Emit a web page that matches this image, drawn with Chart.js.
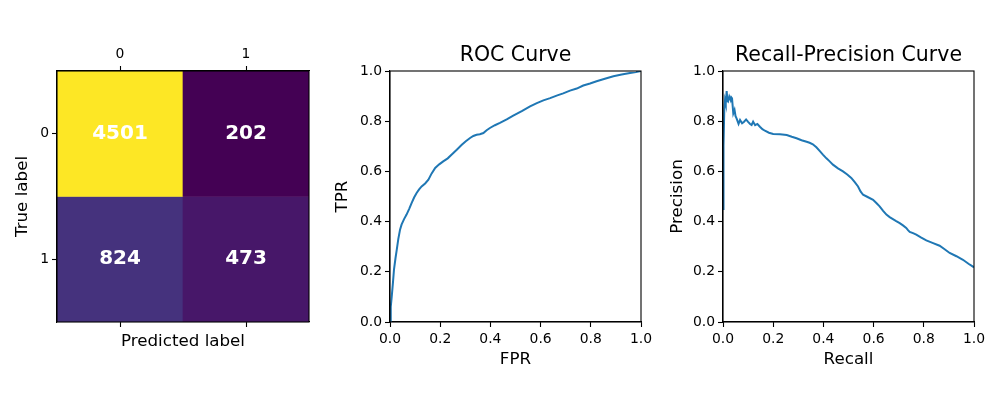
<!DOCTYPE html>
<html>
<head>
<meta charset="utf-8">
<script src="https://cdn.jsdelivr.net/npm/chart.js@4.4.0/dist/chart.umd.min.js"></script>
<style>
  html, body { margin: 0; padding: 0; background: #fff; overflow: hidden; }
  #wrap { position: relative; width: 1000px; height: 400px; }
  canvas { position: absolute; top: 0; }
</style>
</head>
<body>
<div id="wrap">
  <canvas id="confusion" width="330" height="400" style="left:0px"></canvas>
  <canvas id="roc" width="330" height="400" style="left:330px"></canvas>
  <canvas id="pr" width="340" height="400" style="left:660px"></canvas>
</div>
<script>
// confusion matrix
const cmLabels = ['0', '1'];
const cmRow0 = [4501, 202];
const cmRow1 = [824, 473];

// ROC curve
const rocFpr = [0, 0.003, 0.007, 0.012, 0.016, 0.022, 0.027, 0.033, 0.04, 0.046, 0.056, 0.066, 0.076, 0.086, 0.096, 0.106, 0.116, 0.126, 0.14, 0.153, 0.166, 0.18, 0.196, 0.212, 0.23, 0.246, 0.266, 0.286, 0.302, 0.319, 0.332, 0.345, 0.358, 0.372, 0.385, 0.398, 0.418, 0.438, 0.465, 0.491, 0.525, 0.558, 0.585, 0.611, 0.638, 0.664, 0.69, 0.717, 0.744, 0.77, 0.797, 0.823, 0.856, 0.89, 0.923, 0.956, 0.98, 1.0];
const rocTpr = [0, 0.06, 0.102, 0.16, 0.21, 0.255, 0.288, 0.33, 0.368, 0.388, 0.41, 0.428, 0.45, 0.474, 0.496, 0.514, 0.528, 0.54, 0.552, 0.567, 0.592, 0.614, 0.628, 0.64, 0.652, 0.667, 0.686, 0.706, 0.72, 0.733, 0.741, 0.746, 0.748, 0.753, 0.764, 0.773, 0.784, 0.793, 0.807, 0.822, 0.84, 0.859, 0.872, 0.883, 0.892, 0.902, 0.911, 0.922, 0.93, 0.942, 0.95, 0.959, 0.969, 0.979, 0.986, 0.992, 0.996, 1.0];

// recall-precision curve
const prRecall = [0, 0.002, 0.005, 0.008, 0.011, 0.0146, 0.018, 0.02, 0.025, 0.0305, 0.033, 0.036, 0.041, 0.046, 0.05, 0.054, 0.062, 0.068, 0.076, 0.084, 0.092, 0.1, 0.108, 0.114, 0.12, 0.128, 0.137, 0.147, 0.157, 0.167, 0.183, 0.2, 0.227, 0.254, 0.274, 0.293, 0.313, 0.333, 0.345, 0.358, 0.372, 0.385, 0.398, 0.412, 0.425, 0.438, 0.458, 0.478, 0.495, 0.511, 0.525, 0.538, 0.548, 0.558, 0.578, 0.598, 0.611, 0.624, 0.638, 0.651, 0.664, 0.677, 0.69, 0.704, 0.717, 0.73, 0.737, 0.744, 0.757, 0.77, 0.79, 0.81, 0.837, 0.863, 0.883, 0.903, 0.93, 0.956, 0.978, 1.0];
const prPrecision = [0.45, 0.7, 0.84, 0.884, 0.87, 0.92, 0.88, 0.878, 0.898, 0.884, 0.895, 0.891, 0.831, 0.845, 0.82, 0.811, 0.789, 0.805, 0.792, 0.798, 0.807, 0.797, 0.789, 0.785, 0.798, 0.784, 0.789, 0.778, 0.768, 0.762, 0.754, 0.749, 0.748, 0.745, 0.738, 0.732, 0.724, 0.718, 0.714, 0.708, 0.696, 0.682, 0.667, 0.652, 0.64, 0.627, 0.612, 0.6, 0.588, 0.574, 0.557, 0.54, 0.52, 0.507, 0.497, 0.487, 0.474, 0.461, 0.443, 0.428, 0.418, 0.41, 0.402, 0.394, 0.385, 0.375, 0.366, 0.359, 0.354, 0.348, 0.336, 0.325, 0.314, 0.304, 0.29, 0.275, 0.262, 0.248, 0.232, 0.218];

const axisTicks = [0, 0.2, 0.4, 0.6, 0.8, 1.0];

// matplotlib viridis, 11 stops
const viridis = ['#440154', '#482475', '#414487', '#355f8d', '#2a788e', '#21918c', '#22a884', '#44bf70', '#7ad151', '#bddf26', '#fde725'];

function hexToRgb(h) {
    return [parseInt(h.substr(1, 2), 16), parseInt(h.substr(3, 2), 16), parseInt(h.substr(5, 2), 16)];
}

function viridisColor(t) {
    t = Math.max(0, Math.min(1, t));
    var p = t * (viridis.length - 1);
    var i = Math.min(Math.floor(p), viridis.length - 2);
    var f = p - i;
    var a = hexToRgb(viridis[i]), b = hexToRgb(viridis[i + 1]);
    var c = a.map((v, k) => Math.round(v + (b[k] - v) * f));
    return 'rgb(' + c.join(',') + ')';
}

Chart.defaults.font.family = "'DejaVu Sans', sans-serif";
Chart.defaults.color = '#000';
Chart.defaults.animation = false;

const tickFont = { size: 13.9 };
const labelFont = { size: 16.7 };

const framePlugin = {
    id: 'frame',
    afterDraw(chart) {
        var a = chart.chartArea, ctx = chart.ctx;
        ctx.save();
        ctx.strokeStyle = '#000';
        ctx.lineWidth = 1.1;
        ctx.strokeRect(a.left, a.top, a.right - a.left, a.bottom - a.top);
        ctx.restore();
    }
};

const cellTextPlugin = {
    id: 'cellText',
    afterDatasetsDraw(chart) {
        var ctx = chart.ctx;
        ctx.save();
        ctx.fillStyle = '#fff';
        ctx.font = "bold 20px 'DejaVu Sans'";
        ctx.textAlign = 'center';
        ctx.textBaseline = 'middle';
        chart.data.datasets.forEach((ds, di) => {
            chart.getDatasetMeta(di).data.forEach((bar, i) => {
                var yMid = (bar.y + bar.base) / 2;
                ctx.fillText(String(ds.counts[i]), bar.x, yMid);
            });
        });
        ctx.restore();
    }
};

function fixSize(w, h) {
    return function (scale) {
        if (w !== null) scale.width = w;
        if (h !== null) scale.height = h;
    };
}

const axisGrid = { drawOnChartArea: false, drawTicks: true, tickLength: 5, tickWidth: 1.1, tickColor: '#000', offset: false };
const axisBorder = { display: true, color: '#000', width: 1.1 };

// ---------- confusion matrix ----------
const cmRows = [cmRow0, cmRow1];
const cmAll = cmRow0.concat(cmRow1);
const cmMin = Math.min.apply(null, cmAll);
const cmMax = Math.max.apply(null, cmAll);

new Chart(document.getElementById('confusion').getContext('2d'), {
    type: 'bar',
    data: {
        labels: cmLabels,
        datasets: cmRows.map((row, r) => ({
            label: 'row ' + r,
            counts: row,
            data: row.map(() => [r - 0.5, r + 0.5]),
            backgroundColor: row.map(v => viridisColor((v - cmMin) / (cmMax - cmMin))),
            borderWidth: 0,
            categoryPercentage: 1.0,
            barPercentage: 1.0,
            grouped: false
        }))
    },
    options: {
        responsive: false,
        layout: { padding: { left: 0, right: 21, top: 0, bottom: 0 } },
        plugins: { legend: { display: false }, tooltip: { enabled: false } },
        scales: {
            x: {
                type: 'category',
                position: 'top',
                offset: true,
                grid: axisGrid,
                border: axisBorder,
                ticks: { font: tickFont, padding: 3, maxRotation: 0 },
                afterFit: fixSize(null, 71)
            },
            x2: {
                type: 'category',
                axis: 'x',
                position: 'bottom',
                labels: cmLabels,
                offset: true,
                grid: axisGrid,
                border: axisBorder,
                ticks: { display: false },
                title: { display: true, text: 'Predicted label', font: labelFont, padding: { top: 0, bottom: 48.5 } },
                afterFit: fixSize(null, 78)
            },
            y: {
                type: 'linear',
                reverse: true,
                min: -0.5,
                max: 1.5,
                grid: axisGrid,
                border: axisBorder,
                afterBuildTicks: function (scale) {
                    scale.ticks = cmLabels.map((l, i) => ({ value: i }));
                },
                ticks: { font: tickFont, padding: 3, callback: (v) => cmLabels[v] },
                title: { display: true, text: 'True label', font: labelFont, padding: { top: 12.5, bottom: 0 } },
                afterFit: fixSize(57, null)
            }
        }
    },
    plugins: [cellTextPlugin, framePlugin]
});

// ---------- curve panels ----------
function curveChart(id, xs, ys, title, xTitle, yTitle, yAxisWidth, yTitlePad, rightPad) {
    return new Chart(document.getElementById(id).getContext('2d'), {
        type: 'line',
        data: {
            datasets: [{
                label: title,
                data: xs.map((x, i) => ({ x: x, y: ys[i] })),
                borderColor: '#1f77b4',
                borderWidth: 2,
                pointRadius: 0,
                tension: 0,
                fill: false
            }]
        },
        options: {
            responsive: false,
            layout: { padding: { left: 0, right: rightPad, top: 0, bottom: 0 } },
            plugins: { legend: { display: false }, tooltip: { enabled: false } },
            scales: {
                x: {
                    type: 'linear',
                    min: 0,
                    max: 1,
                    grid: axisGrid,
                    border: axisBorder,
                    afterBuildTicks: function (scale) {
                        scale.ticks = axisTicks.map(v => ({ value: v }));
                    },
                    ticks: { font: tickFont, padding: 4, maxRotation: 0, callback: (v) => v.toFixed(1) },
                    title: { display: true, text: xTitle, font: labelFont, padding: { top: 0, bottom: 30.5 } },
                    afterFit: fixSize(null, 78)
                },
                xTop: {
                    type: 'linear',
                    axis: 'x',
                    position: 'top',
                    min: 0,
                    max: 1,
                    grid: { display: false },
                    border: { display: false },
                    ticks: { display: false },
                    title: { display: true, text: title, font: { size: 20.5 }, padding: { top: 43.4, bottom: 0 } },
                    afterFit: fixSize(null, 71)
                },
                y: {
                    type: 'linear',
                    min: 0,
                    max: 1,
                    grid: axisGrid,
                    border: axisBorder,
                    afterBuildTicks: function (scale) {
                        scale.ticks = axisTicks.map(v => ({ value: v }));
                    },
                    ticks: { font: tickFont, padding: 3, callback: (v) => v.toFixed(1) },
                    title: { display: true, text: yTitle, font: labelFont, padding: { top: yTitlePad, bottom: 0 } },
                    afterFit: fixSize(yAxisWidth, null)
                }
            }
        },
        plugins: [framePlugin]
    });
}

curveChart('roc', rocFpr, rocTpr, 'ROC Curve', 'FPR', 'TPR', 60, 2.8, 19);
curveChart('pr', prRecall, prPrecision, 'Recall-Precision Curve', 'Recall', 'Precision', 63, 7.8, 26);
</script>
</body>
</html>
